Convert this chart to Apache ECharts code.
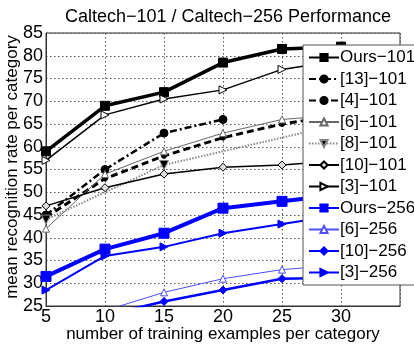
<!DOCTYPE html>
<html><head><meta charset="utf-8">
<script src="https://cdn.jsdelivr.net/npm/echarts@6/dist/echarts.min.js"></script>
<style>html,body{margin:0;padding:0;background:#fff}#c{width:414px;height:350px}</style>
</head><body><div id="c"></div>
<script>
var trainingExamples = [5, 10, 15, 20, 25, 30];
var xTicks = [5, 10, 15, 20, 25, 30];
var yTicks = [25, 30, 35, 40, 45, 50, 55, 60, 65, 70, 75, 80, 85];
var ours101 = [59, 69, 72, 78.5, 81.5, 82];
var ref13_101 = [45, 55, 63, 66, null, null];
var ref4_101 = [44.5, 53, 58, 62, 65, 67];
var ref6_101 = [42, 54, 59, 63, 66, 67];
var ref8_101 = [44, null, 56, null, null, 65];
var ref10_101 = [47, 51, 54, 55.5, 56, 57];
var ref3_101 = [57, 67, 70.5, 72.5, 77, 79];
var ours256 = [31.5, 37.5, 41, 46.5, 48, 49.5];
var ref6_256 = [null, 24, 28, 31, 33, 34];
var ref10_256 = [null, 23, 26, 28.5, 31, 31.2];
var ref3_256 = [28.5, 36, 38, 41, 43, 45];

function pts(v){ return trainingExamples.map(function(x,i){ return [x, v[i]]; }); }
var F = 'Liberation Sans, Arial, sans-serif';
function S(name, data, color, width, type, symbol, size, rot, fill){
  return {
    name: name, type: 'line', data: pts(data), connectNulls: true,
    symbol: symbol, symbolSize: size, symbolRotate: rot || 0, clip: true,
    lineStyle: {color: color, width: width, type: type},
    itemStyle: {color: fill || color, borderColor: color, borderWidth: 1},
    emphasis: {disabled: true}, animation: false, z: 3
  };
}
var series = [
  S('Ours\u2212101', ours101, '#000', 3.5, 'solid', 'rect', 9),
  S('[13]\u2212101', ref13_101, '#000', 2.5, [7,3,2,3], 'circle', 8),
  S('[4]\u2212101', ref4_101, '#000', 3, [7,4], 'circle', 5),
  S('[6]\u2212101', ref6_101, '#666', 1, 'solid', 'triangle', 7, 0, '#fff'),
  S('[8]\u2212101', ref8_101, '#888', 2, [1.5,1.5], 'triangle', 9, 180, '#000'),
  S('[10]\u2212101', ref10_101, '#000', 1.5, 'solid', 'diamond', 8, 0, '#ddd'),
  S('[3]\u2212101', ref3_101, '#000', 1.5, 'solid', 'triangle', 8, -90, '#fff'),
  S('Ours\u2212256', ours256, '#0000ff', 4, 'solid', 'rect', 10),
  S('[6]\u2212256', ref6_256, '#4d4dff', 1, 'solid', 'triangle', 7, 0, '#fff'),
  S('[10]\u2212256', ref10_256, '#0000ff', 2.5, 'solid', 'diamond', 8),
  S('[3]\u2212256', ref3_256, '#0000ff', 2, 'solid', 'triangle', 8, -90)
];
var chart = echarts.init(document.getElementById('c'), null, {renderer: 'canvas'});
chart.setOption({
  backgroundColor: '#fff',
  animation: false,
  title: {text: 'Caltech\u2212101 / Caltech\u2212256 Performance', left: 223, top: 3, textAlign: 'center',
    textStyle: {fontFamily: F, fontSize: 18, fontWeight: 'normal', color: '#000'}},
  grid: {left: 46, right: 14, top: 33, bottom: 44, show: true, borderColor: '#333', borderWidth: 1,
    containLabel: false, outerBoundsMode: 'none'},
  xAxis: {type: 'value', min: 5, max: 35, interval: 5,
    axisLine: {show: true, onZero: false, lineStyle: {color: '#333'}},
    axisTick: {show: false},
    axisLabel: {fontFamily: F, fontSize: 18, color: '#000', margin: 2,
      formatter: function(v){ return xTicks.indexOf(v) >= 0 ? String(v) : ''; }},
    splitLine: {show: true, lineStyle: {color: '#555', type: [1.5, 2.5], width: 1}}},
  yAxis: {type: 'value', min: 25, max: 85, interval: 5,
    axisLine: {show: true, onZero: false, lineStyle: {color: '#333'}},
    axisTick: {show: false},
    axisLabel: {fontFamily: F, fontSize: 18, color: '#000', margin: 3,
      formatter: function(v){ return yTicks.indexOf(v) >= 0 ? String(v) : ''; }},
    splitLine: {show: true, lineStyle: {color: '#555', type: [1.5, 2.5], width: 1}}},
  legend: {orient: 'vertical', left: 303, top: 45, itemWidth: 30, itemHeight: 9, itemGap: 4.5,
    padding: [4, 20, 4, 5], backgroundColor: '#fff', borderColor: '#555', borderWidth: 1,
    textStyle: {fontFamily: F, fontSize: 17, color: '#000', padding: [0,0,0,-4]},
    selectedMode: false, z: 10},
  graphic: [
    {type: 'text', x: 223, y: 334,
      style: {text: 'number of training examples per category', font: '17px ' + F, fill: '#000',
        align: 'center', verticalAlign: 'middle'}},
    {type: 'text', x: 12, y: 167, rotation: Math.PI / 2,
      style: {text: 'mean recognition rate per category', font: '17px ' + F, fill: '#000',
        align: 'center', verticalAlign: 'middle'}}
  ],
  series: series
});
</script></body></html>
